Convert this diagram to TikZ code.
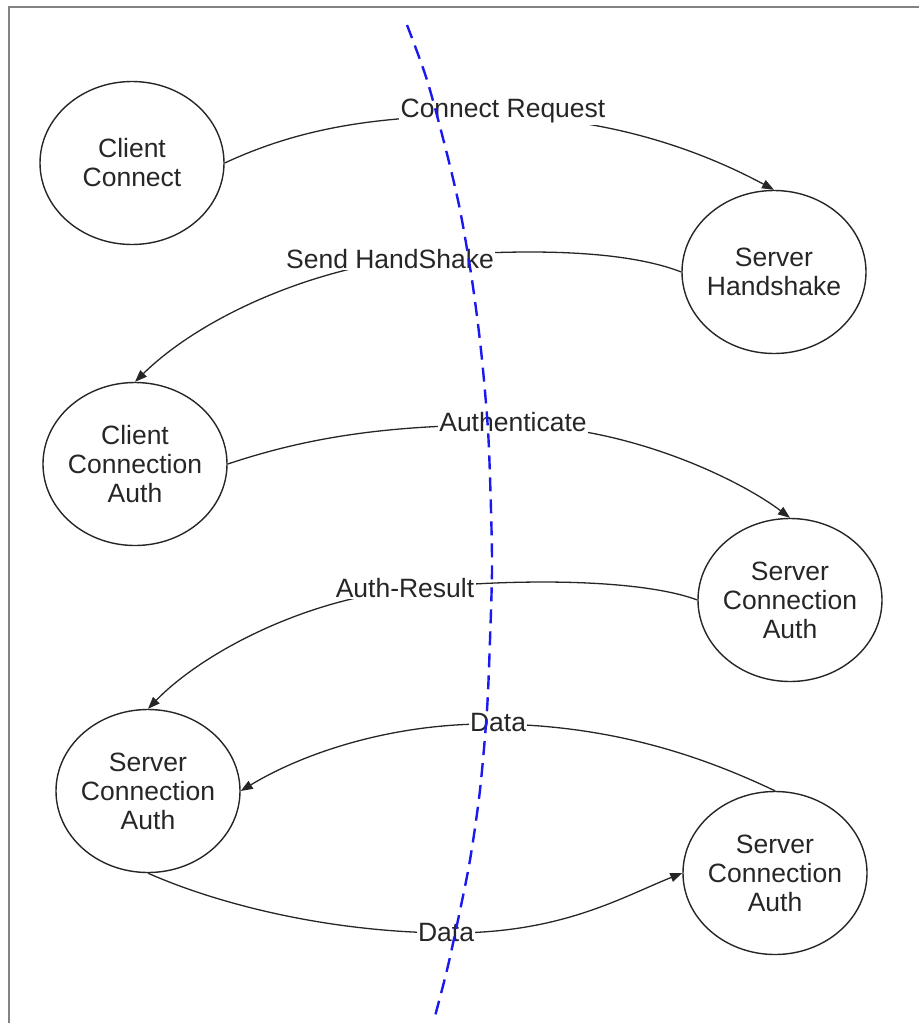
\documentclass[tikz,border=0pt]{standalone}
\usepackage{fontspec}
\setmainfont{Liberation Sans}
\usetikzlibrary{arrows.meta,shapes.geometric}
\definecolor{framegray}{RGB}{130,130,130}
\definecolor{splitblue}{RGB}{25,25,240}
\begin{document}
\begin{tikzpicture}[x=1pt,y=-1pt,
  state/.style={ellipse,draw=black!85,line width=1.4pt,minimum width=184pt,
    minimum height=163pt,inner xsep=-14pt,inner ysep=0pt,align=center,
    font=\fontsize{26.5}{29}\selectfont,text=black!85},
  msg/.style={fill=white,inner sep=1.5pt,font=\fontsize{26.5}{29}\selectfont,text=black!85},
  flow/.style={draw=black!85,line width=1.3pt,-{Triangle[length=12pt,width=9pt]}},
  split/.style={draw=splitblue,line width=2.4pt,dash pattern=on 14pt off 8pt}]
\useasboundingbox (0,0) rectangle (919,1023);
% frame
\draw[framegray,line width=2pt] (9,1023) -- (9,7) -- (919,7);

% states
\node[state] (cc)  at (132,163) {Client\\Connect};
\node[state] (sh)  at (774,272) {Server\\Handshake};
\node[state] (cca) at (135,464) {Client\\Connection\\Auth};
\node[state] (sca) at (790,600) {Server\\Connection\\Auth};
\node[state] (scl) at (148,791) {Server\\Connection\\Auth};
\node[state] (srb) at (775,873) {Server\\Connection\\Auth};

% messages
\draw[flow] (cc.east) .. controls (300,128) and (380,114) .. (500,116)
  .. controls (610,118) and (700,150) .. (sh.north);
\draw[flow] (sh.west) .. controls (630,252) and (540,247) .. (420,257)
  .. controls (310,268) and (200,318) .. (cca.north);
\draw[flow] (cca.east) .. controls (300,440) and (380,424) .. (513,425)
  .. controls (630,426) and (740,480) .. (sca.north);
\draw[flow] (sca.west) .. controls (650,582) and (540,576) .. (410,589)
  .. controls (300,600) and (200,655) .. (scl.north);
\draw[flow] (srb.north) .. controls (710,760) and (620,726) .. (498,724)
  .. controls (390,722) and (300,755) .. (scl.east);
\draw[flow] (scl.south) .. controls (220,905) and (330,932) .. (446,933)
  .. controls (560,934) and (620,898) .. (srb.west);

% message labels
\node[msg] (lcr) at (503,111) {Connect Request};
\node[msg] (lsh) at (390,259) {Send HandShake};
\node[msg] (lau) at (513,422) {Authenticate};
\node[msg] (lar) at (405,588) {Auth-Result};
\node[msg] (ld1) at (498,723) {Data};
\node[msg] (ld2) at (446,933) {Data};

% client / server boundary
\draw[split] plot[smooth] coordinates {(407,25) (427,80) (446,150) (460,210)
  (472,280) (481,350) (488,430) (491,510) (492,570) (490,640) (487,710)
  (480,790) (470,860) (458,920) (447,970) (434,1020)};
\end{tikzpicture}
\end{document}
